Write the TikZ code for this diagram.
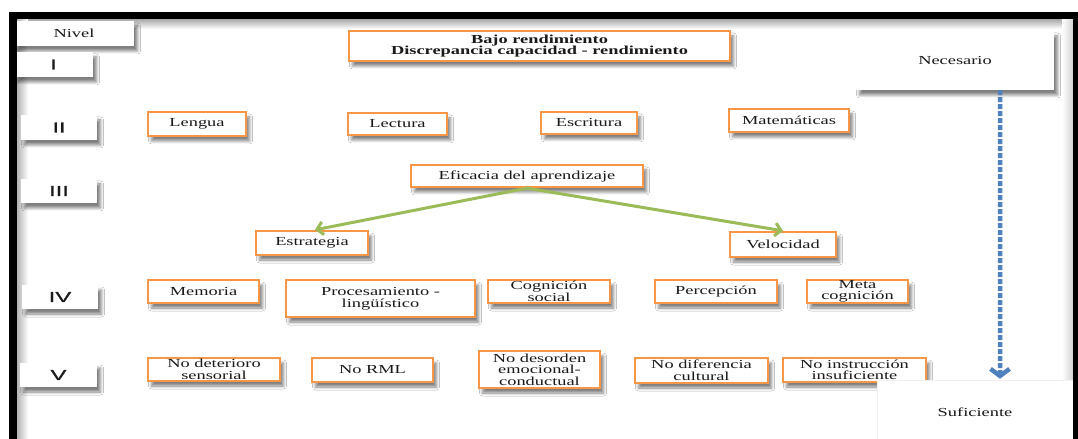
\documentclass[tikz,border=0pt]{standalone}
\usepackage{fontspec}
\setmainfont{Liberation Serif}[FakeStretch=1.5]
\newfontfamily\levelfont{Liberation Sans}[FakeStretch=1.65, FakeBold=1.2]
\usetikzlibrary{arrows.meta,shadows.blur}
\definecolor{boxorange}{HTML}{F79646}
\definecolor{flowblue}{HTML}{4F81BD}
\definecolor{linkgreen}{HTML}{9BBB59}
\definecolor{inktext}{HTML}{1A1A1A}
\tikzset{
  softshadow/.style={blur shadow={shadow xshift=3.5bp, shadow yshift=-5bp,
      shadow blur radius=3bp, shadow opacity=50, shadow blur steps=6}},
  cbox/.style={draw=boxorange, line width=2.3bp, fill=white, softshadow,
      inner sep=0pt, align=center, text=inktext,
      font=\fontsize{12.3}{11.6}\selectfont},
  lvbox/.style={fill=white, softshadow, inner sep=0pt, text=inktext,
      font=\levelfont\fontsize{14.5}{14.5}\selectfont},
  plainbox/.style={fill=white, softshadow, inner sep=0pt, align=center, text=inktext,
      font=\fontsize{12.3}{12}\selectfont},
  greenlink/.style={draw=linkgreen, line width=3bp,
      -{Straight Barb[length=6bp,width=13bp]}},
  flowlink/.style={draw=flowblue, line width=4.5bp, dash pattern=on 5bp off 2bp,
      -{Straight Barb[length=7bp,width=19bp]}}
}
\begin{document}
\begin{tikzpicture}[x=1bp,y=-1bp]
\useasboundingbox (0,0) rectangle (1078,439);
\fill[white] (0,0) rectangle (1078,439);
% inner shading of the frame
\shade[top color=gray!65, bottom color=white] (16,19.5) rectangle (1073,29);
\shade[left color=gray!65, right color=white] (16,19.5) rectangle (28,439);
\shade[left color=white, right color=gray!35] (1062,19.5) rectangle (1073,439);

% level column
\node[lvbox, font=\fontsize{12.3}{12}\selectfont, minimum width=120bp, minimum height=25bp] (nivel) at (74,33.5) {Nivel};
\node[lvbox, minimum width=79bp, minimum height=25bp] (lvI) at (53.5,64.5) {I};
\node[lvbox, minimum width=76bp, minimum height=25bp] (lvII) at (59,127.5) {II};
\node[lvbox, minimum width=76bp, minimum height=24bp] (lvIII) at (59,191) {III};
\node[lvbox, minimum width=76bp, minimum height=24bp] (lvIV) at (60,297) {IV};
\node[lvbox, minimum width=77bp, minimum height=24bp] (lvV) at (58.5,375) {V};

% level I
\node[cbox, font=\bfseries\fontsize{12.3}{11.7}\selectfont, minimum width=381bp, minimum height=30bp] (title) at (539.5,46)
  {Bajo rendimiento\\Discrepancia capacidad - rendimiento};

% level II
\node[cbox, minimum width=98bp, minimum height=24bp] (lengua) at (197,124) {Lengua};
\node[cbox, minimum width=99bp, minimum height=22bp] (lectura) at (397.5,124) {Lectura};
\node[cbox, minimum width=96bp, minimum height=22bp] (escritura) at (589,123) {Escritura};
\node[cbox, minimum width=120bp, minimum height=23bp] (mate) at (789,120.5) {Matemáticas};

% level III
\node[cbox, minimum width=232bp, minimum height=22bp] (eff) at (527,176) {Eficacia del aprendizaje};
\node[cbox, minimum width=112bp, minimum height=24bp] (estr) at (312,243) {Estrategia};
\node[cbox, minimum width=106bp, minimum height=25bp] (vel) at (783,244.5) {Velocidad};
\draw[greenlink] (eff.south) -- ([xshift=3bp]estr.north);
\draw[greenlink] (eff.south) -- (vel.north);

% level IV
\node[cbox, minimum width=111bp, minimum height=23bp] (mem) at (203.5,291.5) {Memoria};
\node[cbox, minimum width=189bp, minimum height=37bp] (proc) at (380.5,298.5) {Procesamiento -\\lingüístico};
\node[cbox, minimum width=122bp, minimum height=23bp] (cog) at (549,291.5) {Cognición\\social};
\node[cbox, minimum width=122bp, minimum height=23bp] (perc) at (716,291.5) {Percepción};
\node[cbox, minimum width=101bp, minimum height=23bp] (meta) at (857.5,291.5) {Meta\\cognición};

% level V
\node[cbox, minimum width=132bp, minimum height=23bp] (nodet) at (214,369.5) {No deterioro\\sensorial};
\node[cbox, minimum width=121bp, minimum height=24bp] (norml) at (372.5,370) {No RML};
\node[cbox, minimum width=121bp, minimum height=37bp] (nodes) at (539.5,369.5) {No desorden\\emocional-\\conductual};
\node[cbox, minimum width=133bp, minimum height=25bp] (nodif) at (701.5,370.5) {No diferencia\\cultural};
\node[cbox, minimum width=143bp, minimum height=24bp] (noins) at (854.5,370) {No instrucción\\insuficiente};

% necessary / sufficient scale
\node[plainbox, minimum width=198bp, minimum height=59bp] (nec) at (955,60.5) {Necesario};
\node[plainbox, draw=gray!12, line width=0.6bp, minimum width=196bp, minimum height=64bp] (suf) at (975,412) {Suficiente};
\draw[flowlink] ([xshift=45bp]nec.south) -- ([xshift=25bp,yshift=1bp]suf.north);

% black frame
\fill[black] (9,12.5) rectangle (1078,19.5);
\fill[black] (9,12.5) rectangle (16.5,439);
\fill[black] (1073,12.5) rectangle (1078,439);
\end{tikzpicture}
\end{document}
